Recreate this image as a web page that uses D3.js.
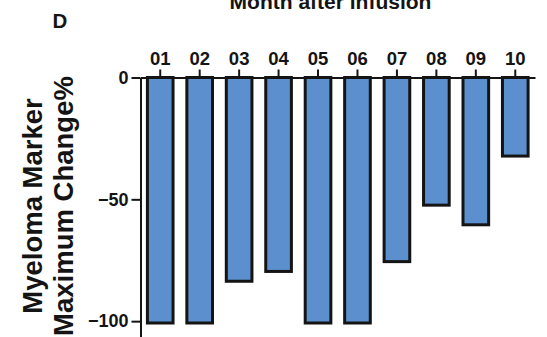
<!DOCTYPE html>
<html>
<head>
<meta charset="utf-8">
<script src="https://cdn.jsdelivr.net/npm/d3@7"></script>
<style>
  html, body { margin: 0; padding: 0; background: #fff; }
  svg { display: block; }
  text { font-family: "Liberation Sans", Arial, sans-serif; font-weight: bold; fill: #141414; }
</style>
</head>
<body>
<svg id="chart" width="547" height="337"></svg>
<script>
// Patients (top axis labels) and maximum change of the myeloma marker (%)
const patients = ["01", "02", "03", "04", "05", "06", "07", "08", "09", "10"];
const maxChange = [-100, -100, -83, -79, -100, -100, -75, -52, -60, -32];
const yTicks = [0, -50, -100];
const yTickLabels = ["0", "\u221250", "\u2212100"];

const svg = d3.select("#chart");
const ink = "#141414";
const barFill = "#5b8fcd";

const x = d3.scaleBand()
  .domain(patients)
  .range([140.5, 535])
  .paddingInner(0.35)
  .paddingOuter(0.175);

const y = d3.scaleLinear()
  .domain([0, -100])
  .range([77.5, 323]);

// Bars hanging down from the zero line
svg.append("g")
  .selectAll("rect")
  .data(patients.map((p, i) => ({ p, v: maxChange[i] })))
  .join("rect")
  .attr("x", d => x(d.p))
  .attr("y", y(0))
  .attr("width", x.bandwidth())
  .attr("height", d => y(d.v) - y(0))
  .attr("fill", barFill)
  .attr("stroke", ink)
  .attr("stroke-width", 3);

// Top axis with patient numbers
const xAxis = svg.append("g")
  .attr("transform", `translate(0,${y(0)})`)
  .call(d3.axisTop(x).tickSize(8).tickPadding(4.5).tickSizeOuter(0));
xAxis.select(".domain").attr("stroke", ink).attr("stroke-width", 2);
xAxis.selectAll(".tick line").attr("stroke", ink).attr("stroke-width", 2);
xAxis.selectAll(".tick text")
  .attr("font-size", 18.5)
  .attr("font-family", null)
  .attr("fill", ink);

// Left axis, extended a little below -100
const yAxisScale = y.copy().domain([0, -106.5]).range([77.5, 337]);
const yAxis = svg.append("g")
  .attr("transform", "translate(140.5,0)")
  .call(d3.axisLeft(yAxisScale)
    .tickValues(yTicks)
    .tickFormat((d, i) => yTickLabels[i])
    .tickSize(9)
    .tickPadding(3)
    .tickSizeOuter(0));
yAxis.select(".domain").attr("stroke", ink).attr("stroke-width", 2);
yAxis.selectAll(".tick line").attr("stroke", ink).attr("stroke-width", 2);
yAxis.selectAll(".tick text")
  .attr("font-size", 18)
  .attr("font-family", null)
  .attr("fill", ink);

// Axis title (two lines, rotated)
const yTitle = svg.append("text")
  .attr("transform", "translate(0,206) rotate(-90)")
  .attr("text-anchor", "middle")
  .attr("font-size", 27.5);
yTitle.append("tspan").attr("x", 0).attr("y", 41.5).text("Myeloma Marker");
yTitle.append("tspan").attr("x", 0).attr("y", 73).text("Maximum Change%");

// Panel title and panel letter
svg.append("text")
  .attr("x", 330.5)
  .attr("y", 8.5)
  .attr("text-anchor", "middle")
  .attr("font-size", 21)
  .text("Month after infusion");

svg.append("text")
  .attr("x", 52.5)
  .attr("y", 27.5)
  .attr("font-size", 20.5)
  .text("D");
</script>
</body>
</html>
